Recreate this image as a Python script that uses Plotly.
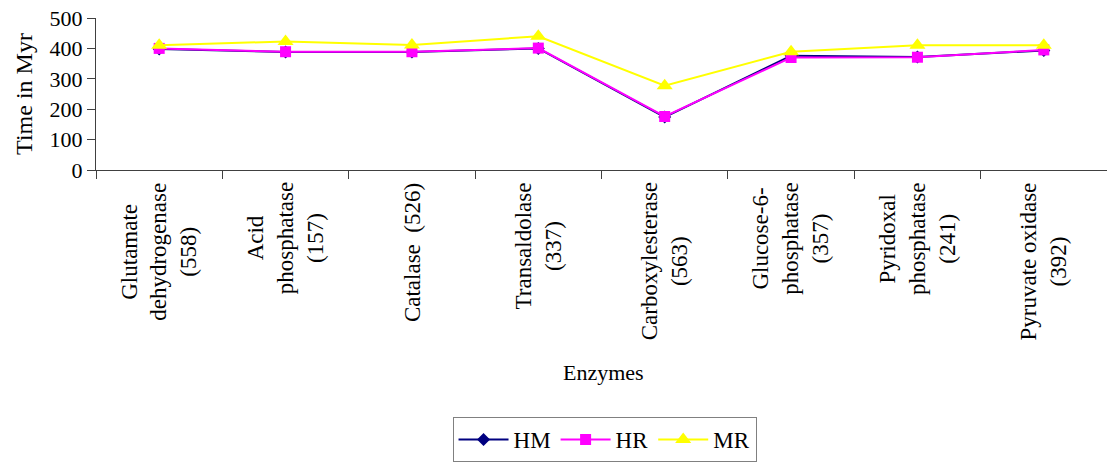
import plotly.graph_objects as go

# Enzyme categories (number of sites in parentheses)
enzymes = [
    "Glutamate<br>dehydrogenase<br>(558)",
    "Acid<br>phosphatase<br>(157)",
    "Catalase  (526)",
    "Transaldolase<br>(337)",
    "Carboxylesterase<br>(563)",
    "Glucose-6-<br>phosphatase<br>(357)",
    "Pyridoxal<br>phosphatase<br>(241)",
    "Pyruvate oxidase<br>(392)",
]
categories = ["c%d" % i for i in range(len(enzymes))]

# Divergence times (Myr)
hm = [398, 388, 388, 400, 174, 376, 372, 393]
hr = [400, 389, 389, 401, 176, 370, 371, 395]
mr = [410, 423, 411, 440, 277, 389, 410, 410]

y_ticks = [0, 100, 200, 300, 400, 500]

FONT = "Liberation Serif"
AXIS = "#404040"

fig = go.Figure()
fig.add_trace(go.Scatter(
    x=categories, y=hm, name="HM", mode="lines+markers",
    line=dict(color="#000080", width=2),
    marker=dict(symbol="diamond", size=10, color="#000080"),
))
fig.add_trace(go.Scatter(
    x=categories, y=hr, name="HR", mode="lines+markers",
    line=dict(color="#FF00FF", width=2),
    marker=dict(symbol="square", size=11, color="#FF00FF"),
))
fig.add_trace(go.Scatter(
    x=categories, y=mr, name="MR", mode="lines+markers",
    line=dict(color="#FFFF00", width=2),
    marker=dict(symbol="triangle-up", size=14, color="#FFFF00"),
))

# Rotated category labels, lines centred within each block
annotations = []
for c, label in zip(categories, enzymes):
    annotations.append(dict(
        x=c, xref="x", y=-0.07, yref="paper",
        text=label, textangle=-90, showarrow=False,
        xanchor="center", yanchor="top", align="center",
        font=dict(family=FONT, size=23, color="black"),
    ))
annotations.append(dict(
    x=0.502, xref="paper", y=-1.333, yref="paper",
    text="Enzymes", showarrow=False,
    xanchor="center", yanchor="middle",
    font=dict(family=FONT, size=22, color="black"),
))

fig.update_layout(
    width=1107, height=462,
    margin=dict(l=96, r=0, t=18, b=288),
    paper_bgcolor="white", plot_bgcolor="white",
    font=dict(family=FONT, size=22, color="black"),
    showlegend=True,
    legend=dict(
        orientation="h", x=0.503, xanchor="center",
        y=-1.625, yanchor="top",
        bordercolor="#808080", borderwidth=1, bgcolor="white",
        font=dict(family=FONT, size=23, color="black"),
        itemwidth=50,
    ),
    annotations=annotations,
)
fig.update_xaxes(
    type="category", tickson="boundaries",
    showticklabels=False, showgrid=False, zeroline=False,
    showline=True, linecolor=AXIS, linewidth=1,
    ticks="outside", ticklen=8, tickcolor=AXIS,
    range=[-0.5, len(categories) - 0.5],
)
fig.update_yaxes(
    range=[0, 500], tickvals=y_ticks, showgrid=False, zeroline=False,
    showline=True, linecolor=AXIS, linewidth=1,
    ticks="outside", ticklen=8, tickcolor=AXIS,
    tickfont=dict(family=FONT, size=22, color="black"),
    title=dict(text="Time in Myr", standoff=10,
               font=dict(family=FONT, size=24, color="black")),
)

fig.write_html("out.html")
